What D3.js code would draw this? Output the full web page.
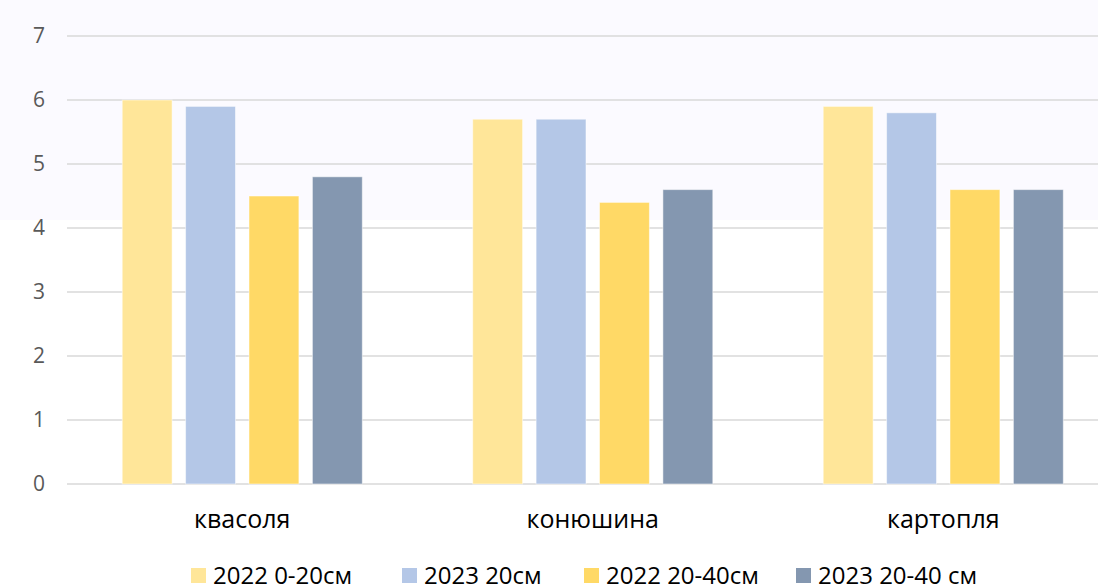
<!DOCTYPE html>
<html>
<head>
<meta charset="utf-8">
<script src="https://cdn.jsdelivr.net/npm/d3@7"></script>
<style>
  html, body { margin: 0; padding: 0; background: #ffffff; }
  svg { display: block; }
</style>
</head>
<body>
<script>
const categories = ["квасоля", "конюшина", "картопля"];
const seriesNames = ["2022 0-20см", "2023 20см", "2022 20-40см", "2023 20-40 см"];
const values2022_0_20 = [6.0, 5.7, 5.9];
const values2023_20 = [5.9, 5.7, 5.8];
const values2022_20_40 = [4.5, 4.4, 4.6];
const values2023_20_40 = [4.8, 4.6, 4.6];
const yTicks = [0, 1, 2, 3, 4, 5, 6, 7];
const colors = ["#FFE699", "#B4C7E7", "#FFD966", "#8497B0"];

const seriesValues = [values2022_0_20, values2023_20, values2022_20_40, values2023_20_40];

const W = 1098, H = 586;
const svg = d3.select("body").append("svg").attr("width", W).attr("height", H);

svg.append("rect").attr("x", 0).attr("y", 0).attr("width", W).attr("height", H).attr("fill", "#ffffff");
svg.append("rect").attr("x", 0).attr("y", 0).attr("width", W).attr("height", 220).attr("fill", "#fbfaff");

const x = d3.scaleBand().domain(categories).range([67, 1118.5]).padding(0);
const inner = d3.scaleBand().domain(seriesNames)
  .range([-x.bandwidth() * 0.685 / 2, x.bandwidth() * 0.685 / 2])
  .paddingInner(0.213).paddingOuter(0);
const y = d3.scaleLinear().domain([0, 7]).range([484, 36]);

// gridlines
svg.append("g").selectAll("line").data(yTicks).join("line")
  .attr("x1", 67).attr("x2", W)
  .attr("y1", d => y(d)).attr("y2", d => y(d))
  .attr("stroke", "#d9d9d9").attr("stroke-width", 1.5);

// y axis labels
const yAxis = d3.axisLeft(y).tickValues(yTicks).tickFormat(d3.format("d")).tickSize(0).tickPadding(0);
const yg = svg.append("g").attr("transform", "translate(45,0)").call(yAxis);
yg.select(".domain").remove();
yg.selectAll("text")
  .attr("font-family", "'Open Sans', 'Noto Sans', sans-serif")
  .attr("font-size", 21).attr("fill", "#595959");

// bars
const groups = svg.append("g").selectAll("g").data(categories).join("g")
  .attr("transform", c => `translate(${x(c) + x.bandwidth() / 2},0)`);
groups.selectAll("rect")
  .data((c, ci) => seriesNames.map((s, si) => ({ s, si, v: seriesValues[si][ci] })))
  .join("rect")
  .attr("x", d => inner(d.s))
  .attr("width", inner.bandwidth())
  .attr("y", d => y(d.v))
  .attr("height", d => y(0) - y(d.v))
  .attr("fill", d => colors[d.si])
  .attr("stroke", "#ffffff").attr("stroke-opacity", 0.5).attr("stroke-width", 1);

// x axis labels
const xAxis = d3.axisBottom(x).tickSize(0).tickPadding(0);
const xg = svg.append("g").attr("transform", "translate(0,0)").call(xAxis);
xg.select(".domain").remove();
xg.selectAll("text")
  .attr("y", 528).attr("dy", null)
  .attr("font-family", "'Open Sans', 'Noto Sans', sans-serif")
  .attr("font-size", 25).attr("fill", "#000000");

// legend
const legendX = [191, 402, 584, 796];
const lg = svg.append("g").selectAll("g").data(seriesNames).join("g")
  .attr("transform", (d, i) => `translate(${legendX[i]},568)`);
lg.append("rect").attr("width", 15).attr("height", 15).attr("fill", (d, i) => colors[i]);
lg.append("text").attr("x", 22).attr("y", 16)
  .attr("font-family", "'Open Sans', 'Noto Sans', sans-serif")
  .attr("font-size", 24).attr("fill", "#000000")
  .text(d => d);
</script>
</body>
</html>
